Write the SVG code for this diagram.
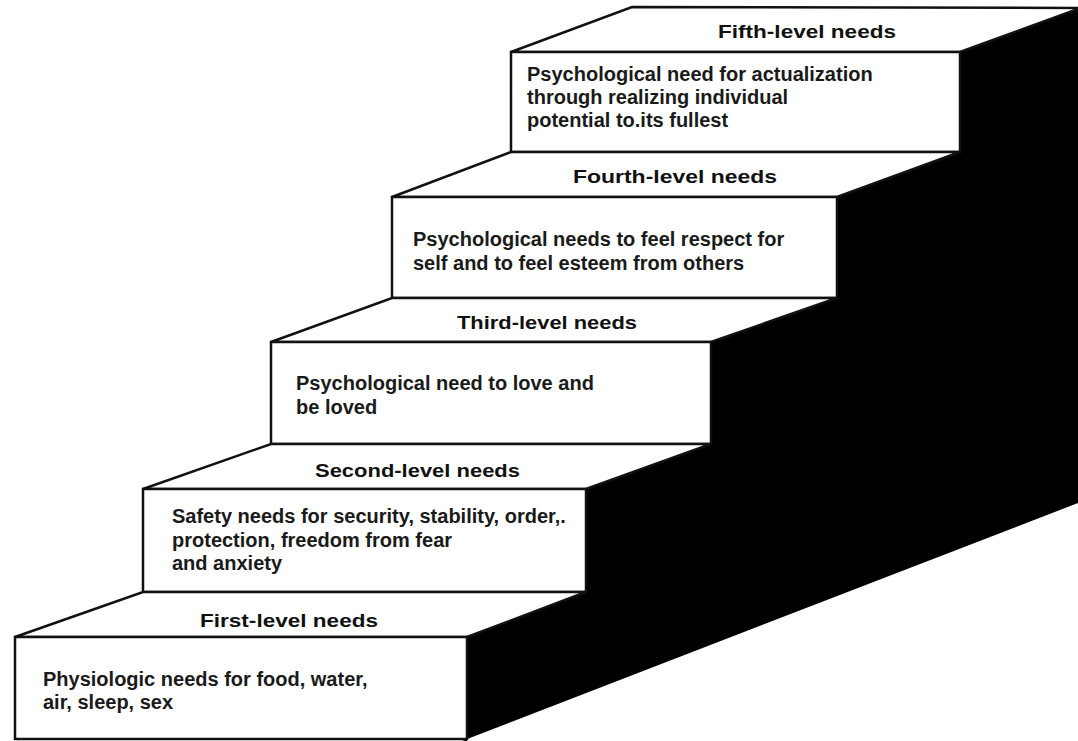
<svg xmlns="http://www.w3.org/2000/svg" width="1078" height="741" viewBox="0 0 1078 741">
<style>
.face{fill:#fff;stroke:#111;stroke-width:2.5;stroke-linejoin:miter}
.top{fill:#fff;stroke:#111;stroke-width:2.5;stroke-linejoin:miter}
.side{fill:#000}
.head{font-family:"Liberation Sans",Arial,Helvetica,sans-serif;font-weight:bold;font-size:18px;fill:#111}
.body{font-family:"Liberation Sans",Arial,Helvetica,sans-serif;font-weight:bold;font-size:20px;fill:#1a1a1a}
</style>
<rect x="0" y="0" width="1078" height="741" fill="#fff"/>
<g id="side">
<polygon class="side" points="467,741 467,637 586,592 586,489 711,444 711,342 837,298 837,197 960,152 960,52 1078,9 1078,503 462,741"/>
</g>
<g id="step5">
<polygon class="top" points="511,52 632,7 1078,8 1078,9 960,52"/>
<rect class="face" x="511" y="52" width="449" height="100"/>
<text class="head" x="718" y="38" textLength="178" lengthAdjust="spacingAndGlyphs">Fifth-level needs</text>
<text class="body" x="527" y="81">Psychological need for actualization</text>
<text class="body" x="527" y="104">through realizing individual</text>
<text class="body" x="527" y="127">potential to.its fullest</text>
</g>
<g id="step4">
<polygon class="top" points="392,197 511,152 960,152 837,197"/>
<rect class="face" x="392" y="197" width="445" height="101"/>
<text class="head" x="573" y="183" textLength="204" lengthAdjust="spacingAndGlyphs">Fourth-level needs</text>
<text class="body" x="413" y="246">Psychological needs to feel respect for</text>
<text class="body" x="413" y="270">self and to feel esteem from others</text>
</g>
<g id="step3">
<polygon class="top" points="271,342 392,298 837,298 711,342"/>
<rect class="face" x="271" y="342" width="440" height="102"/>
<text class="head" x="457" y="329" textLength="180" lengthAdjust="spacingAndGlyphs">Third-level needs</text>
<text class="body" x="296" y="390">Psychological need to love and</text>
<text class="body" x="296" y="414">be loved</text>
</g>
<g id="step2">
<polygon class="top" points="143,489 271,444 711,444 586,489"/>
<rect class="face" x="143" y="489" width="443" height="103"/>
<text class="head" x="315" y="477" textLength="205" lengthAdjust="spacingAndGlyphs">Second-level needs</text>
<text class="body" x="172" y="523">Safety needs for security, stability, order,.</text>
<text class="body" x="172" y="547">protection, freedom from fear</text>
<text class="body" x="172" y="570">and anxiety</text>
</g>
<g id="step1">
<polygon class="top" points="15,637 143,592 586,592 467,637"/>
<rect class="face" x="15" y="637" width="452" height="102"/>
<text class="head" x="200" y="627" textLength="178" lengthAdjust="spacingAndGlyphs">First-level needs</text>
<text class="body" x="43" y="686">Physiologic needs for food, water,</text>
<text class="body" x="43" y="709">air, sleep, sex</text>
</g>
</svg>
